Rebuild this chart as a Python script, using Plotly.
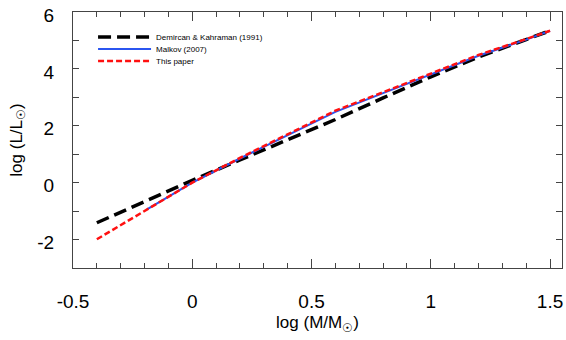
import plotly.graph_objects as go

log_m = [-0.4, -0.2, 0.0, 0.2, 0.4, 0.6, 0.8, 1.0, 1.2, 1.4, 1.5]
dk1991 = [-1.41, -0.66, 0.08, 0.80, 1.50, 2.22, 2.98, 3.72, 4.42, 5.02, 5.34]
this_paper = [-1.99, -0.99, 0.0, 0.87, 1.70, 2.53, 3.18, 3.84, 4.49, 5.05, 5.34]

log_m_malkov = [-0.19, 0.0, 0.2, 0.4, 0.6, 0.8, 1.0, 1.2, 1.4, 1.5]
malkov2007 = [-0.94, 0.0, 0.85, 1.67, 2.49, 3.15, 3.81, 4.46, 5.03, 5.34]

x_ticks = [-0.5, 0, 0.5, 1, 1.5]
x_labels = ['-0.5', '0', '0.5', '1', '1.5']
y_ticks = [-2, 0, 2, 4, 6]
y_labels = ['-2', '0', '2', '4', '6']

fig = go.Figure()
fig.add_trace(go.Scatter(x=log_m, y=dk1991, mode='lines', name='Demircan & Kahraman (1991)',
                         line=dict(color='black', width=3.5, dash='13px,6px'),
                         legend='legend', showlegend=True))
fig.add_trace(go.Scatter(x=log_m_malkov, y=malkov2007, mode='lines', name='Malkov (2007)',
                         line=dict(color='#2b55f0', width=2),
                         legend='legend2', showlegend=True))
fig.add_trace(go.Scatter(x=log_m, y=this_paper, mode='lines', name='This paper',
                         line=dict(color='#ff1010', width=2.5, dash='6px,3px'),
                         legend='legend3', showlegend=True))

axis_style = dict(showline=True, linecolor='#444', linewidth=1, mirror='ticks',
                  ticks='inside', tickcolor='#444', showgrid=False, zeroline=False,
                  automargin=False, ticklabeloverflow='allow',
                  tickfont=dict(size=19, color='black'))

fig.update_xaxes(range=[-0.5, 1.55], tickvals=x_ticks, ticktext=x_labels, ticklen=9,
                 ticklabelstandoff=16,
                 minor=dict(dtick=0.1, ticks='inside', ticklen=5, tickcolor='#444'),
                 title=dict(text='log (M/M<sub>☉</sub>)', font=dict(size=17), standoff=5),
                 **axis_style)
fig.update_yaxes(range=[-3, 6], tickvals=y_ticks, ticktext=y_labels, ticklen=6,
                 ticklabelstandoff=14, ticklabelshift=3,
                 minor=dict(dtick=1, ticks='inside', ticklen=6, tickcolor='#444'),
                 title=dict(text='log (L/L<sub>☉</sub>)', font=dict(size=17), standoff=10),
                 **axis_style)

leg = dict(x=0.041, xanchor='left', yanchor='middle', font=dict(size=8),
           itemwidth=53, bgcolor='rgba(0,0,0,0)')
fig.update_layout(width=566, height=340,
                  margin=dict(l=73, r=4, t=12, b=72),
                  paper_bgcolor='white', plot_bgcolor='white',
                  font=dict(family='Liberation Sans, Arial', color='black'),
                  legend=dict(y=0.902, **leg),
                  legend2=dict(y=0.855, **leg),
                  legend3=dict(y=0.809, **leg))

# drop the default 8px body margin so the figure fills the window
fig.write_html("out.html", config={'displayModeBar': False},
               post_script="document.body.style.margin = '0';")
